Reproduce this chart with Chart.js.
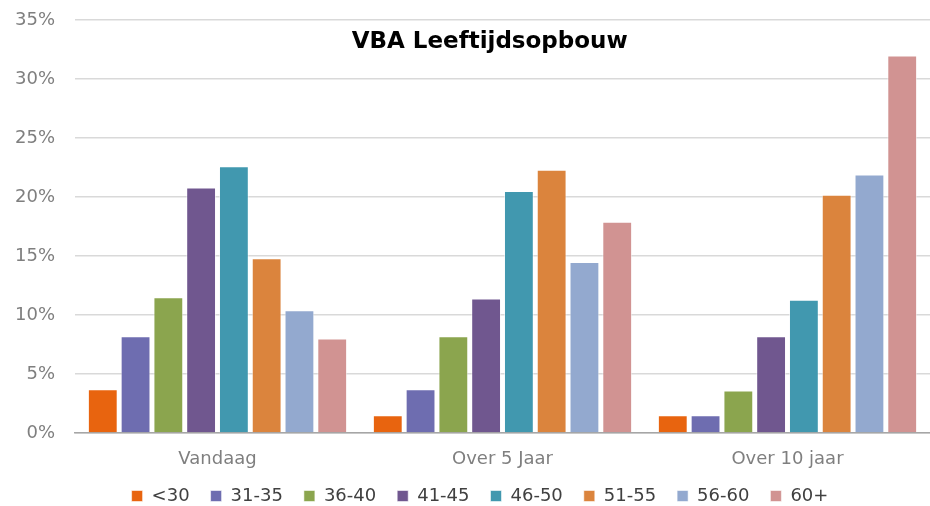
<!DOCTYPE html>
<html>
<head>
<meta charset="utf-8">
<script src="https://cdn.jsdelivr.net/npm/chart.js@4"></script>
<style>
  html, body { margin: 0; padding: 0; background: #fff; }
  #wrap { width: 930px; height: 506px; position: relative; }
</style>
</head>
<body>
<div id="wrap"><canvas id="myChart"></canvas></div>
<script>
const categories = ["Vandaag", "Over 5 Jaar", "Over 10 jaar"];
const groups = ["<30", "31-35", "36-40", "41-45", "46-50", "51-55", "56-60", "60+"];
const colors = ["#e8640f", "#6e6db0", "#8ba54e", "#70578f", "#4198af", "#db843d", "#93a9cf", "#d19392"];

// percentage per age group, per category (Vandaag, Over 5 Jaar, Over 10 jaar)
const under30 = [3.7, 1.5, 1.5];
const age31_35 = [8.2, 3.7, 1.5];
const age36_40 = [11.5, 8.2, 3.6];
const age41_45 = [20.8, 11.4, 8.2];
const age46_50 = [22.6, 20.5, 11.3];
const age51_55 = [14.8, 22.3, 20.2];
const age56_60 = [10.4, 14.5, 21.9];
const age60plus = [8.0, 17.9, 32.0];

const yTicks = [0, 5, 10, 15, 20, 25, 30, 35];
const chartTitle = "VBA Leeftijdsopbouw";

const seriesValues = [under30, age31_35, age36_40, age41_45, age46_50, age51_55, age56_60, age60plus];

// title sits inside the plot area in the original
const innerTitle = {
  id: "innerTitle",
  afterDraw(chart) {
    const { ctx, chartArea } = chart;
    ctx.save();
    ctx.font = "bold 23px 'DejaVu Sans'";
    ctx.fillStyle = "#000";
    ctx.textAlign = "center";
    ctx.textBaseline = "middle";
    ctx.fillText(chartTitle, chartArea.left + chartArea.width * 0.485, chartArea.top + 22);
    ctx.restore();
  },
};

// legend: a bit flatter than chart.js makes it, and a little right of centre
const legendTweak = {
  id: "legendTweak",
  beforeUpdate(chart) {
    const legend = chart.legend;
    if (legend && !legend._tweaked) {
      const fit = legend.fit;
      legend.fit = function () {
        fit.call(this);
        this.height -= 5;
      };
      legend._tweaked = true;
    }
  },
  afterLayout(chart) {
    chart.legend.left += 15;
    chart.legend.right += 15;
    chart.legend.top -= 5;
    chart.legend.bottom -= 5;
  },
};

const ctx = document.getElementById("myChart");

new Chart(ctx, {
  type: "bar",
  data: {
    labels: categories,
    datasets: groups.map((g, i) => ({
      label: g,
      data: seriesValues[i],
      backgroundColor: colors[i],
      borderColor: "rgba(255,255,255,0.55)",
      borderWidth: 1,
      barPercentage: 0.91,
      categoryPercentage: 0.92,
    })),
  },
  options: {
    responsive: true,
    maintainAspectRatio: false,
    animation: false,
    layout: {
      padding: { top: 20, right: 0, left: 0, bottom: -9 },
    },
    scales: {
      y: {
        min: 0,
        max: 35,
        afterBuildTicks: (scale) => {
          scale.ticks = yTicks.map((v) => ({ value: v }));
        },
        afterFit: (scale) => {
          scale.width = 75;
          scale.paddingTop = 0;
          scale.paddingBottom = 0;
        },
        border: { display: false },
        grid: {
          color: "#d9d9d9",
          lineWidth: 1.5,
          drawTicks: false,
        },
        ticks: {
          padding: 20,
          color: "#7f7f7f",
          font: { family: "DejaVu Sans", size: 18 },
          callback: function (value) {
            return value + "%";
          },
        },
      },
      x: {
        grid: { display: false, drawTicks: false },
        border: { color: "#a6a6a6", width: 1.5 },
        afterFit: (scale) => {
          scale.height = 38;
        },
        ticks: {
          padding: 16,
          color: "#7f7f7f",
          font: { family: "DejaVu Sans", size: 18 },
        },
      },
    },
    plugins: {
      legend: {
        position: "bottom",
        labels: {
          boxWidth: 11,
          boxHeight: 11,
          padding: 21,
          color: "#404040",
          font: { family: "DejaVu Sans", size: 18 },
        },
      },
      tooltip: { enabled: false },
    },
  },
  plugins: [innerTitle, legendTweak],
});
</script>
</body>
</html>
